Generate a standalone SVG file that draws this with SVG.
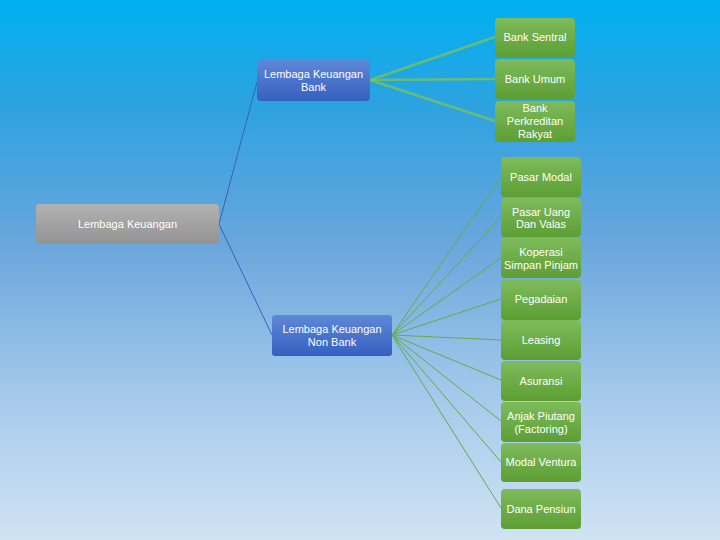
<svg xmlns="http://www.w3.org/2000/svg" width="720" height="540" viewBox="0 0 720 540">
<defs>
<linearGradient id="bg" x1="0" y1="0" x2="0" y2="1">
<stop offset="0" stop-color="#00b0f0"/>
<stop offset="0.2" stop-color="#2ea2e0"/>
<stop offset="0.45" stop-color="#6aa6dc"/>
<stop offset="0.75" stop-color="#a8cbec"/>
<stop offset="1" stop-color="#d0e3f3"/>
</linearGradient>
<linearGradient id="gGreen" x1="0" y1="0" x2="0" y2="1">
<stop offset="0" stop-color="#7fbb5c"/>
<stop offset="1" stop-color="#5c9e34"/>
</linearGradient>
<linearGradient id="gBlue" x1="0" y1="0" x2="0" y2="1">
<stop offset="0" stop-color="#5f87d8"/>
<stop offset="1" stop-color="#3660c0"/>
</linearGradient>
<linearGradient id="gGray" x1="0" y1="0" x2="0" y2="1">
<stop offset="0" stop-color="#b2b2b2"/>
<stop offset="1" stop-color="#939393"/>
</linearGradient>
</defs>
<style>
.t{font-family:"Liberation Sans",Arial,sans-serif;font-size:11px;fill:#ffffff;text-anchor:middle}
.g{fill:url(#gGreen)}
.b{fill:url(#gBlue)}
.gr{fill:url(#gGray)}
.lb{stroke:#3a5fc0;stroke-width:1;fill:none}
.lg1{stroke:#7cc454;stroke-opacity:0.75;stroke-width:2.5;fill:none}
.lg2{stroke:#5fae46;stroke-width:1;fill:none}
</style>
<rect x="0" y="0" width="720" height="540" fill="url(#bg)"/>
<g id="connectors">
<line class="lb" x1="219" y1="224" x2="257" y2="82"/>
<line class="lb" x1="219" y1="224" x2="272" y2="335"/>
<line class="lg1" x1="370" y1="80" x2="495" y2="37"/>
<line class="lg1" x1="370" y1="80" x2="495" y2="79"/>
<line class="lg1" x1="370" y1="80" x2="495" y2="121"/>
<line class="lg2" x1="392" y1="335" x2="501" y2="177"/>
<line class="lg2" x1="392" y1="335" x2="501" y2="217"/>
<line class="lg2" x1="392" y1="335" x2="501" y2="258"/>
<line class="lg2" x1="392" y1="335" x2="501" y2="299"/>
<line class="lg2" x1="392" y1="335" x2="501" y2="340"/>
<line class="lg2" x1="392" y1="335" x2="501" y2="380"/>
<line class="lg2" x1="392" y1="335" x2="501" y2="421"/>
<line class="lg2" x1="392" y1="335" x2="501" y2="462"/>
<line class="lg2" x1="392" y1="335" x2="501" y2="508"/>
</g>
<g id="root"><rect class="gr" x="36" y="204" width="183" height="40" rx="4"/><text class="t" x="127.5" y="228">Lembaga Keuangan</text></g>
<g id="bank"><rect class="b" x="257" y="60" width="113" height="41" rx="4"/><text class="t" x="313.5" y="78">Lembaga Keuangan</text><text class="t" x="313.5" y="91">Bank</text></g>
<g id="nonbank"><rect class="b" x="272" y="315" width="120" height="41" rx="3"/><text class="t" x="332" y="333">Lembaga Keuangan</text><text class="t" x="332" y="346">Non Bank</text></g>
<g id="bank-sentral"><rect class="g" x="495" y="18" width="80" height="39" rx="4"/><text class="t" x="535" y="41">Bank Sentral</text></g>
<g id="bank-umum"><rect class="g" x="495" y="59" width="80" height="40" rx="4"/><text class="t" x="535" y="83">Bank Umum</text></g>
<g id="bpr"><rect class="g" x="495" y="101" width="80" height="41" rx="4"/><text class="t" x="535" y="112">Bank</text><text class="t" x="535" y="125">Perkreditan</text><text class="t" x="535" y="138">Rakyat</text></g>
<g id="pasar-modal"><rect class="g" x="501" y="157" width="80" height="40" rx="4"/><text class="t" x="541" y="181">Pasar Modal</text></g>
<g id="pasar-uang"><rect class="g" x="501" y="198" width="80" height="39" rx="4"/><text class="t" x="541" y="216">Pasar Uang</text><text class="t" x="541" y="228">Dan Valas</text></g>
<g id="koperasi"><rect class="g" x="501" y="238" width="80" height="40" rx="4"/><text class="t" x="541" y="256">Koperasi</text><text class="t" x="541" y="269">Simpan Pinjam</text></g>
<g id="pegadaian"><rect class="g" x="501" y="280" width="80" height="40" rx="4"/><text class="t" x="541" y="303">Pegadaian</text></g>
<g id="leasing"><rect class="g" x="501" y="320" width="80" height="40" rx="4"/><text class="t" x="541" y="344">Leasing</text></g>
<g id="asuransi"><rect class="g" x="501" y="361" width="80" height="40" rx="4"/><text class="t" x="541" y="385">Asuransi</text></g>
<g id="anjak"><rect class="g" x="501" y="402" width="80" height="40" rx="4"/><text class="t" x="541" y="420">Anjak Piutang</text><text class="t" x="541" y="433">(Factoring)</text></g>
<g id="modal-ventura"><rect class="g" x="501" y="443" width="80" height="39" rx="4"/><text class="t" x="541" y="466">Modal Ventura</text></g>
<g id="dana-pensiun"><rect class="g" x="501" y="489" width="80" height="40" rx="4"/><text class="t" x="541" y="513">Dana Pensiun</text></g>
</svg>
